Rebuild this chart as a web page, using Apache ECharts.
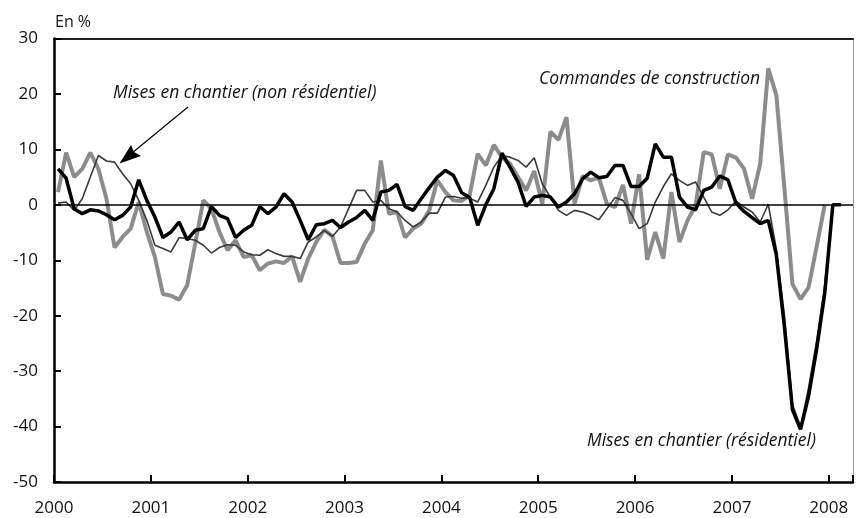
<!DOCTYPE html>
<html>
<head>
<meta charset="utf-8">
<script src="https://cdn.jsdelivr.net/npm/echarts@6/dist/echarts.min.js"></script>
<style>
html,body{margin:0;padding:0;background:#fff;}
#c{width:856px;height:518px;}
</style>
</head>
<body>
<div id="c"></div>
<script>
// Monthly data, January 2000 onwards (year-on-year change, %)
var startYear = 2000;
var yearTicks = ['2000','2001','2002','2003','2004','2005','2006','2007','2008'];

var residentiel = [
  6.5, 4.8, -0.7, -1.6, -0.9, -1.1, -1.8, -2.7, -1.9, -0.4, 4.5, 0.8,
  -2.2, -5.9, -4.9, -3.1, -6.3, -4.6, -4.3, -0.3, -1.9, -2.5, -5.9, -4.6,
  -3.7, -0.3, -1.6, -0.4, 2.0, 0.5, -2.8, -6.3, -3.6, -3.4, -2.8, -4.1,
  -3.1, -2.3, -1.0, -2.8, 2.3, 2.6, 3.7, -0.3, -1.0, 1.1, 3.1, 5.0,
  6.2, 5.3, 2.2, 1.3, -3.7, 0.0, 2.9, 9.3, 6.8, 4.1, -0.3, 1.4,
  1.7, 1.4, -0.4, 0.5, 2.0, 4.7, 5.9, 4.9, 5.1, 7.1, 7.1, 3.3,
  3.3, 4.8, 11.0, 8.6, 8.6, 1.4, -0.4, -0.9, 2.6, 3.2, 5.2, 4.5,
  0.3, -1.2, -2.3, -3.4, -2.8, -9.0, -22.0, -37.0, -40.5, -34.5, -26.0, -16.0,
  0.0, 0.0
];

var nonResidentiel = [
  0.3, 0.5, -1.0, 1.1, 5.0, 8.9, 7.9, 7.7, 5.6, 3.8, 0.8, -2.8,
  -7.3, -7.9, -8.5, -5.9, -6.1, -6.4, -7.3, -8.7, -7.7, -7.2, -7.3, -8.5,
  -9.0, -9.1, -8.1, -8.8, -9.3, -9.3, -9.7, -6.7, -5.8, -4.6, -5.7, -4.0,
  -0.7, 2.6, 2.6, 0.5, 0.8, -0.7, -1.3, -2.8, -4.0, -3.1, -1.5, -1.5,
  1.4, 1.5, 1.2, 1.2, 0.5, 3.5, 6.8, 8.9, 8.6, 8.0, 6.8, 8.5,
  3.8, 1.4, -1.0, -1.9, -1.0, -1.3, -1.9, -2.7, -0.7, 1.3, 0.8, -1.6,
  -4.3, -3.4, 0.5, 3.3, 5.6, 4.4, 3.5, 4.1, 1.4, -1.3, -1.9, -0.9,
  0.7, -0.4, -1.3, -3.1, 0.1, -8.0, -20.0, -36.0, -40.0, -33.0, -24.5, -14.5,
  0.0
];

var commandes = [
  2.3, 9.4, 5.0, 6.5, 9.4, 6.5, 1.1, -7.7, -5.8, -4.3, 0.5, -4.9,
  -9.4, -16.1, -16.4, -17.1, -14.5, -7.0, 0.8, -0.7, -4.9, -8.2, -6.4, -9.4,
  -9.1, -11.8, -10.6, -10.2, -10.5, -9.3, -13.9, -9.7, -6.7, -4.5, -5.7, -10.5,
  -10.5, -10.3, -7.0, -4.6, 8.0, -1.6, -1.3, -5.9, -4.3, -3.4, -1.0, 4.4,
  2.3, 0.8, 0.7, 1.7, 9.2, 7.1, 10.8, 8.6, 7.4, 5.0, 2.6, 6.1,
  0.2, 13.2, 11.7, 15.8, 0.2, 5.2, 4.4, 4.9, 0.2, -0.4, 3.6, -3.4,
  5.5, -9.9, -4.9, -9.7, 2.3, -6.7, -2.8, -0.1, 9.5, 9.1, 2.9, 9.1,
  8.5, 6.5, 1.1, 7.4, 24.6, 19.8, 3.0, -14.3, -17.0, -14.9, -7.5, 0.0
];

var yTicks = [-50, -40, -30, -20, -10, 0, 10, 20, 30];

function toPoints(arr) {
  // each month is drawn in the middle of its month band
  return arr.map(function (v, i) { return [i + 0.5, v]; });
}

var FONT = 'Open Sans';
var chart = echarts.init(document.getElementById('c'), null, {renderer: 'canvas'});

var option = {
  backgroundColor: '#fff',
  animation: false,
  grid: {left: 54, right: 1, top: 38.5, bottom: 36, containLabel: false},
  xAxis: [{
    type: 'value',
    min: 0,
    max: 99,
    interval: 12,
    axisLine: {show: true, onZero: false, lineStyle: {color: '#000', width: 2.5}},
    axisTick: {show: true, inside: true, length: 7, lineStyle: {color: '#000', width: 2}},
    splitLine: {show: false},
    axisLabel: {
      margin: 18,
      fontFamily: FONT, fontSize: 17, color: '#111',
      formatter: function (v) {
        if (v % 12 !== 0) return '';
        return yearTicks[v / 12] || '';
      }
    }
  }, {
    type: 'value', position: 'top', min: 0, max: 99,
    axisLine: {show: true, onZero: false, lineStyle: {color: '#222', width: 2}},
    axisTick: {show: false}, axisLabel: {show: false}, splitLine: {show: false}
  }],
  yAxis: [{
    type: 'value',
    min: yTicks[0],
    max: yTicks[yTicks.length - 1],
    interval: 10,
    axisLine: {show: true, onZero: false, lineStyle: {color: '#000', width: 2.5}},
    axisTick: {show: true, inside: true, length: 7, lineStyle: {color: '#000', width: 2}},
    splitLine: {show: false},
    axisLabel: {margin: 16, fontFamily: FONT, fontSize: 17, color: '#111'}
  }, {
    type: 'value', position: 'right', min: -50, max: 30,
    axisLine: {show: true, onZero: false, lineStyle: {color: '#999', width: 1}},
    axisTick: {show: false}, axisLabel: {show: false}, splitLine: {show: false}
  }],
  series: [{
    name: 'Commandes de construction',
    type: 'line',
    data: toPoints(commandes),
    showSymbol: false,
    symbol: 'none',
    lineStyle: {color: '#8c8c8c', width: 4},
    z: 2,
    markLine: {
      silent: true,
      symbol: 'none',
      label: {show: false},
      lineStyle: {color: '#000', width: 1.5, type: 'solid'},
      data: [{yAxis: 0}]
    }
  }, {
    name: 'Mises en chantier (non résidentiel)',
    type: 'line',
    data: toPoints(nonResidentiel),
    showSymbol: false,
    symbol: 'none',
    lineStyle: {color: '#3a3a3a', width: 1.6},
    z: 3
  }, {
    name: 'Mises en chantier (résidentiel)',
    type: 'line',
    data: toPoints(residentiel),
    showSymbol: false,
    symbol: 'none',
    lineStyle: {color: '#000', width: 3.5},
    z: 4
  }],
  graphic: [
    {type: 'text', left: 55, top: 14,
     style: {text: 'En %', fontFamily: FONT, fontSize: 16, fill: '#111'}},
    {type: 'text', left: 113, top: 84,
     style: {text: 'Mises en chantier (non résidentiel)', fontFamily: FONT, fontSize: 17.5, fontStyle: 'italic', fill: '#111'}},
    {type: 'text', left: 539, top: 70,
     style: {text: 'Commandes de construction', fontFamily: FONT, fontSize: 17.5, fontStyle: 'italic', fill: '#111'}},
    {type: 'text', left: 587, top: 432,
     style: {text: 'Mises en chantier (résidentiel)', fontFamily: FONT, fontSize: 17.5, fontStyle: 'italic', fill: '#111'}},
    {type: 'line', shape: {x1: 188, y1: 107, x2: 132, y2: 153},
     style: {stroke: '#000', lineWidth: 1.2}, z: 10},
    {type: 'polygon', shape: {points: [[119.5, 163.5], [131, 145], [134, 152], [141, 156]]},
     style: {fill: '#000'}, z: 10}
  ]
};
chart.setOption(option);
</script>
</body>
</html>
